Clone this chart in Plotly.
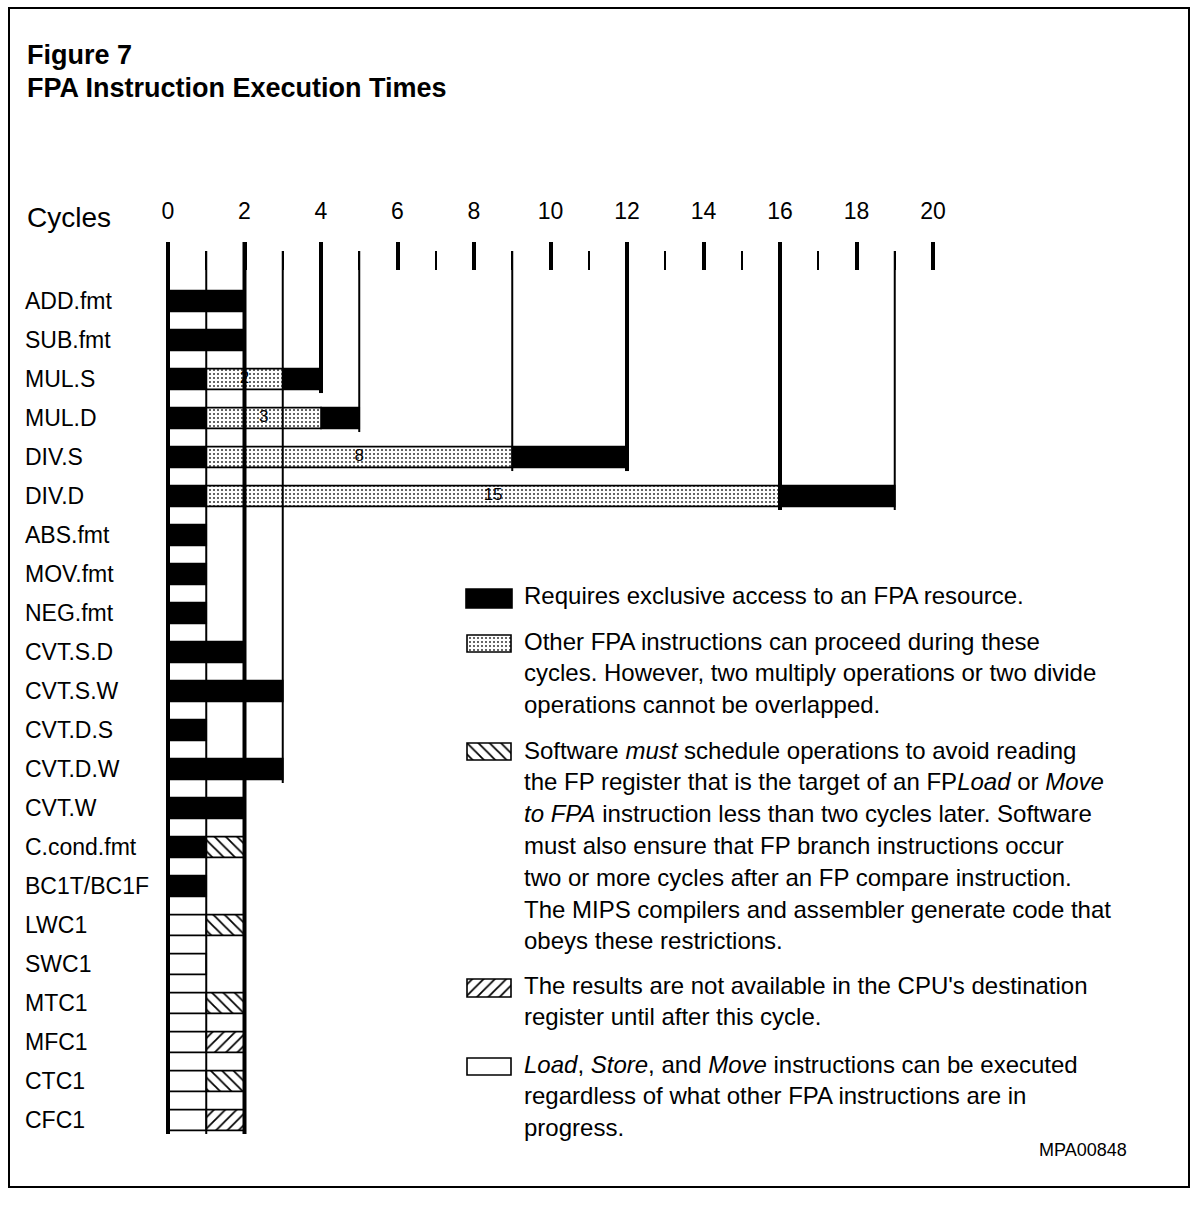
import plotly.graph_objects as go

# ---------------- data ----------------
instructions = ["ADD.fmt", "SUB.fmt", "MUL.S", "MUL.D", "DIV.S", "DIV.D", "ABS.fmt", "MOV.fmt",
                "NEG.fmt", "CVT.S.D", "CVT.S.W", "CVT.D.S", "CVT.D.W", "CVT.W", "C.cond.fmt",
                "BC1T/BC1F", "LWC1", "SWC1", "MTC1", "MFC1", "CTC1", "CFC1"]

# Requires exclusive access to an FPA resource (black)
excl_instr = ["ADD.fmt", "SUB.fmt", "MUL.S", "MUL.S", "MUL.D", "MUL.D", "DIV.S", "DIV.S",
              "DIV.D", "DIV.D", "ABS.fmt", "MOV.fmt", "NEG.fmt", "CVT.S.D", "CVT.S.W",
              "CVT.D.S", "CVT.D.W", "CVT.W", "C.cond.fmt", "BC1T/BC1F"]
excl_start = [0, 0, 0, 3, 0, 4, 0, 9, 0, 16, 0, 0, 0, 0, 0, 0, 0, 0, 0, 0]
excl_end = [2, 2, 1, 4, 1, 5, 1, 12, 1, 19, 1, 1, 1, 2, 3, 1, 3, 2, 1, 1]

# Other FPA instructions can proceed (stippled)
overlap_instr = ["MUL.S", "MUL.D", "DIV.S", "DIV.D"]
overlap_start = [1, 1, 1, 1]
overlap_end = [3, 4, 9, 16]
overlap_label = ["2", "3", "8", "15"]

# Software must schedule (\\\ hatch)
sched_instr = ["C.cond.fmt", "LWC1", "MTC1", "CTC1"]
sched_start = [1, 1, 1, 1]
sched_end = [2, 2, 2, 2]

# Results not available until after this cycle (/// hatch)
result_instr = ["MFC1", "CFC1"]
result_start = [1, 1]
result_end = [2, 2]

# Load / Store / Move (white)
free_instr = ["LWC1", "SWC1", "MTC1", "MFC1", "CTC1", "CFC1"]
free_start = [0, 0, 0, 0, 0, 0]
free_end = [1, 1, 1, 1, 1, 1]

# cycle scale
major_ticks = [0, 2, 4, 6, 8, 10, 12, 14, 16, 18, 20]
minor_ticks = [1, 3, 5, 7, 9, 11, 13, 15, 17, 19]
tick_labels = ["0", "2", "4", "6", "8", "10", "12", "14", "16", "18", "20"]

# long cycle lines and the last instruction they reach
grid_cycles = [0, 1, 2, 3, 4, 5, 9, 12, 16, 19]
grid_last = ["CFC1", "CFC1", "CFC1", "CVT.D.W", "MUL.S", "MUL.D", "DIV.S", "DIV.S", "DIV.D", "DIV.D"]

legend_keys = ["excl", "overlap", "sched", "result", "free"]
legend_text = [
    ["Requires exclusive access to an FPA resource."],
    ["Other FPA instructions can proceed during these",
     "cycles. However, two multiply operations or two divide",
     "operations cannot be overlapped."],
    ["Software <i>must</i> schedule operations to avoid reading",
     "the FP register that is the target of an FP<i>Load</i> or <i>Move</i>",
     "<i>to FPA</i> instruction less than two cycles later. Software",
     "must also ensure that FP branch instructions occur",
     "two or more cycles after an FP compare instruction.",
     "The MIPS compilers and assembler generate code that",
     "obeys these restrictions."],
    ["The results are not available in the CPU's destination",
     "register until after this cycle."],
    ["<i>Load</i>, <i>Store</i>, and <i>Move</i> instructions can be executed",
     "regardless of what other FPA instructions are in",
     "progress."],
]

# ---------------- layout constants (pixels) ----------------
W, H = 1191, 1215
FONT = "Liberation Sans, Arial, Helvetica, sans-serif"
ROW0_PX, ROW_PX = 301.0, 39.0      # first row centre, row pitch
X0_PX, CYC_PX = 168.0, 38.25       # cycle 0 position, pixels per cycle
AXIS_PX = 270.0                    # bottom of the cycle ticks
MAJOR_TOP_PX, MINOR_TOP_PX = 242.0, 251.0
BAR_W = 0.53

STYLE = {
    "excl": dict(color="black"),
    "overlap": dict(color="white", pattern=dict(shape=".", fgcolor="#333333", bgcolor="white",
                                                size=4, solidity=0.2, fillmode="replace")),
    "sched": dict(color="white", pattern=dict(shape="\\", fgcolor="black", bgcolor="white",
                                              size=8, solidity=0.22, fillmode="replace")),
    "result": dict(color="white", pattern=dict(shape="/", fgcolor="black", bgcolor="white",
                                               size=8, solidity=0.22, fillmode="replace")),
    "free": dict(color="white"),
}


def row(name):
    return instructions.index(name)


def y_of_px(py):
    return (py - ROW0_PX) / ROW_PX


fig = go.Figure()


def add_bars(key, names, starts, ends):
    st = STYLE[key]
    marker = dict(color=st["color"], line=dict(color="black", width=1.6))
    if "pattern" in st:
        marker["pattern"] = st["pattern"]
    fig.add_trace(go.Bar(orientation="h", y=[row(n) for n in names], base=starts,
                         x=[e - s for s, e in zip(starts, ends)], width=BAR_W,
                         marker=marker, hoverinfo="skip", showlegend=False))


add_bars("excl", excl_instr, excl_start, excl_end)
add_bars("overlap", overlap_instr, overlap_start, overlap_end)
add_bars("sched", sched_instr, sched_start, sched_end)
add_bars("result", result_instr, result_start, result_end)
add_bars("free", free_instr, free_start, free_end)

# long vertical cycle lines
for weight, width in (("thick", 4), ("thin", 2)):
    xs, ys = [], []
    for c, last in zip(grid_cycles, grid_last):
        even = (c % 2 == 0)
        if (weight == "thick") != even:
            continue
        top = y_of_px(MAJOR_TOP_PX if even else MINOR_TOP_PX)
        xs += [c, c, None]
        ys += [top, row(last) + 0.36, None]
    fig.add_trace(go.Scatter(x=xs, y=ys, mode="lines", line=dict(color="black", width=width),
                             hoverinfo="skip", showlegend=False, cliponaxis=False))

# cycle counts written on the stippled bars
fig.add_trace(go.Scatter(x=[(s + e) / 2 for s, e in zip(overlap_start, overlap_end)],
                         y=[row(n) for n in overlap_instr], text=overlap_label, mode="text",
                         textposition="middle center",
                         textfont=dict(family=FONT, size=17, color="black"),
                         hoverinfo="skip", showlegend=False))

# legend swatches, each in its own tiny axes
swatch_px = [(466, 589, 512, 608), (467, 635, 511, 652), (467, 743, 511, 760),
             (467, 979, 511, 997), (467, 1058, 511, 1075)]
PAD = 3
for k, (key, (x0, y0, x1, y1)) in enumerate(zip(legend_keys, swatch_px)):
    n = k + 2
    st = STYLE[key]
    marker = dict(color=st["color"], line=dict(color="black", width=1.6))
    if "pattern" in st:
        marker["pattern"] = st["pattern"]
    fig.add_trace(go.Bar(orientation="h", y=[0], x=[1], base=[0], width=[1], marker=marker,
                         xaxis=f"x{n}", yaxis=f"y{n}", hoverinfo="skip", showlegend=False))
    wx, hy = x1 - x0, y1 - y0
    fig.layout[f"xaxis{n}"] = dict(domain=[(x0 - PAD) / W, (x1 + PAD) / W],
                                   range=[-PAD / wx, 1 + PAD / wx], visible=False,
                                   anchor=f"y{n}", fixedrange=True)
    fig.layout[f"yaxis{n}"] = dict(domain=[1 - (y1 + PAD) / H, 1 - (y0 - PAD) / H],
                                   range=[-0.5 - PAD / hy, 0.5 + PAD / hy], visible=False,
                                   anchor=f"x{n}", fixedrange=True)

annotations = []
# row labels
for name in instructions:
    annotations.append(dict(text=name, x=23 / W, xref="paper", xanchor="left",
                            y=row(name), yref="y", yanchor="middle", showarrow=False,
                            font=dict(family=FONT, size=23, color="black")))
# Cycles label
annotations.append(dict(text="Cycles", x=25 / W, xref="paper", xanchor="left",
                        y=1 - 218 / H, yref="paper", yanchor="middle", showarrow=False,
                        font=dict(family=FONT, size=28, color="black")))
# title
for txt, py in (("<b>Figure 7</b>", 55), ("<b>FPA Instruction Execution Times</b>", 88)):
    annotations.append(dict(text=txt, x=25 / W, xref="paper", xanchor="left",
                            y=1 - py / H, yref="paper", yanchor="middle", showarrow=False,
                            font=dict(family=FONT, size=27, color="black")))
# legend text
first_line_px = [596, 641, 750, 985, 1064]
LINE_PX = 31.8
for lines, py0 in zip(legend_text, first_line_px):
    for j, ln in enumerate(lines):
        annotations.append(dict(text=ln, x=522 / W, xref="paper", xanchor="left",
                                y=1 - (py0 + j * LINE_PX) / H, yref="paper", yanchor="middle",
                                showarrow=False,
                                font=dict(family=FONT, size=24, color="black")))
annotations.append(dict(text="MPA00848", x=1129 / W, xref="paper", xanchor="right",
                        y=1 - 1150 / H, yref="paper", yanchor="middle", showarrow=False,
                        font=dict(family=FONT, size=18, color="black")))

fig.update_layout(
    width=W, height=H,
    margin=dict(l=0, r=0, t=0, b=0),
    paper_bgcolor="white", plot_bgcolor="white",
    barmode="overlay",
    showlegend=False,
    annotations=annotations,
    shapes=[dict(type="rect", xref="paper", yref="paper", x0=9 / W, x1=1189 / W,
                 y0=1 - 1187 / H, y1=1 - 8 / H, line=dict(color="black", width=2),
                 fillcolor="rgba(0,0,0,0)", layer="above")],
    xaxis=dict(range=[-X0_PX / CYC_PX, (W - X0_PX) / CYC_PX], domain=[0, 1],
               anchor="free", position=1 - AXIS_PX / H, side="top",
               tickmode="array", tickvals=major_ticks, ticktext=tick_labels,
               ticks="outside", ticklen=AXIS_PX - MAJOR_TOP_PX, tickwidth=4, tickcolor="black",
               ticklabelstandoff=14,
               minor=dict(tickmode="array", tickvals=minor_ticks, ticks="outside",
                          ticklen=AXIS_PX - MINOR_TOP_PX, tickwidth=2, tickcolor="black",
                          showgrid=False),
               tickfont=dict(family=FONT, size=23, color="black"),
               showgrid=False, zeroline=False, showline=False, fixedrange=True),
    yaxis=dict(range=[(H - ROW0_PX) / ROW_PX, -ROW0_PX / ROW_PX], domain=[0, 1],
               visible=False, showgrid=False, zeroline=False, fixedrange=True),
)

fig.write_html("out.html", config={"displayModeBar": False, "staticPlot": True},
               post_script="document.body.style.margin='0';")
